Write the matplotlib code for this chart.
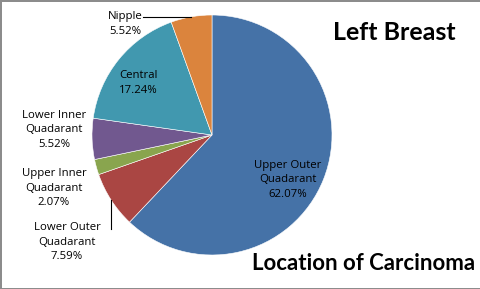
import matplotlib.pyplot as plt
import numpy as np

# data
categories = ["Upper Outer\nQuadarant", "Lower Outer\nQuadarant", "Upper Inner\nQuadarant",
              "Lower Inner\nQuadarant", "Central", "Nipple"]
percents = [62.07, 7.59, 2.07, 5.52, 17.24, 5.52]
colors = ["#4572A7", "#AA4643", "#89A54E", "#71588F", "#4198AF", "#DB843D"]

# label centres in pie units (radius = 1), layout only
label_pos = [(0.63, -0.375), (-1.208, -0.892), (-1.317, -0.442),
             (-1.317, 0.042), (-0.617, 0.433), (-0.725, 0.925)]

W, H = 481, 289
fig = plt.figure(figsize=(W / 100, H / 100), dpi=100)
fig.patch.set_edgecolor("#8c8c8c")
fig.patch.set_linewidth(2)

cx, cy, r = 212, 135, 120
ax = fig.add_axes([(cx - r) / W, (H - cy - r) / H, 2 * r / W, 2 * r / H])
wedges, _ = ax.pie(percents, colors=colors, startangle=90, counterclock=False,
                   wedgeprops=dict(edgecolor="white", linewidth=0.4))
ax.set_xlim(-1, 1)
ax.set_ylim(-1, 1)
ax.set_aspect("equal")
ax.axis("off")

font = ["Open Sans", "DejaVu Sans"]
for cat, p, (x, y) in zip(categories, percents, label_pos):
    ax.text(x, y, f"{cat}\n{p:.2f}%", ha="center", va="center", fontsize=8.2,
            family=font, linespacing=1.45, clip_on=False)

# leader lines from the slice midpoints
def mid_point(w):
    a = np.deg2rad((w.theta1 + w.theta2) / 2)
    return np.cos(a), np.sin(a)

nx, ny = mid_point(wedges[5])
ax.plot([-0.575, nx], [ny, ny], color="black", lw=0.8, clip_on=False)
lx, ly = mid_point(wedges[1])
ax.plot([lx, lx], [ly, -0.785], color="black", lw=0.8, clip_on=False)

title_font = ["Lato", "DejaVu Sans"]
fig.text(394 / W, 1 - 33 / H, "Left Breast", ha="center", va="center",
         fontsize=18, fontweight="bold", family=title_font)
fig.text(364 / W, 1 - 264 / H, "Location of Carcinoma", ha="center", va="center",
         fontsize=16, fontweight="bold", family=title_font)

fig.savefig("out.png", dpi=100)
